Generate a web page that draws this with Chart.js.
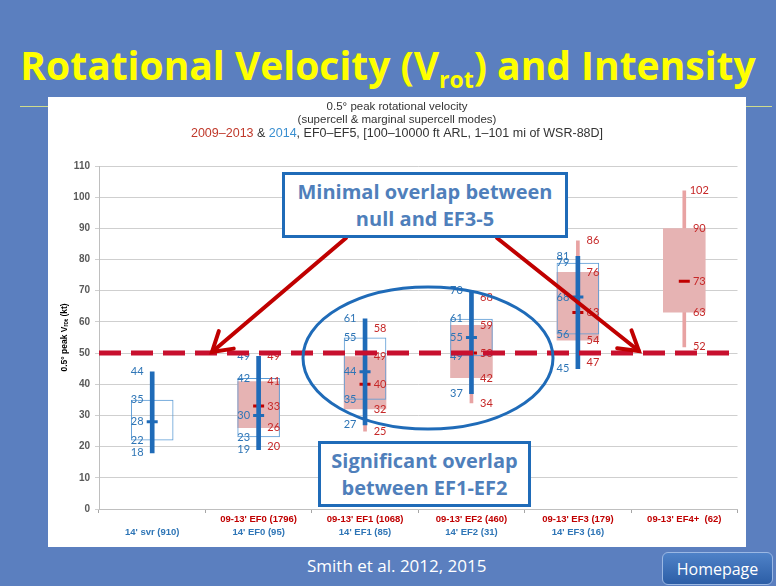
<!DOCTYPE html>
<html>
<head>
<meta charset="utf-8">
<script src="https://cdn.jsdelivr.net/npm/chart.js@4.4.0/dist/chart.umd.min.js"></script>
<style>
  html, body { margin: 0; padding: 0; }
  body { width: 776px; height: 586px; background: #5b7fbf; position: relative; overflow: hidden; font-family: "Open Sans", sans-serif; }
  #title { position: absolute; left: 0; top: 37px; width: 776px; text-align: center; color: #ffff00; font-weight: 700; font-size: 39px; line-height: 56px; white-space: nowrap; }
  #title .sub { font-size: 23px; position: relative; top: 8px; }
  #rule { position: absolute; left: 20px; top: 106px; width: 752px; height: 1px; background: #cfdc8c; }
  #panel { position: absolute; left: 48px; top: 97px; width: 698px; height: 450px; background: #ffffff; }
  #panel canvas { position: absolute; left: 0; top: 0; }
  .callout { position: absolute; background: #ffffff; border: 3px solid #1f6bb8; color: #4f7fbb; font-weight: 700; font-size: 20px; text-align: center; line-height: 27px; box-sizing: border-box; padding-top: 3px; white-space: nowrap; }
  #footer { position: absolute; left: 307px; top: 554px; color: #ffffff; font-size: 17px; }
  #home { position: absolute; left: 662px; top: 552px; width: 111px; height: 33px; border-radius: 6px; border: 1px solid #9bb8e4; background: linear-gradient(#4f82c8, #2c5ea6); color: #ffffff; font-size: 16px; text-align: center; line-height: 33px; box-sizing: border-box; }
</style>
</head>
<body>
<div id="title">Rotational Velocity (V<span class="sub">rot</span>) and Intensity</div>
<div id="rule"></div>
<div id="panel"><canvas id="c" width="698" height="450"></canvas></div>
<div class="callout" style="left:282px;top:172px;width:286px;height:66px;">Minimal overlap between<br>null and EF3-5</div>
<div class="callout" style="left:318px;top:441px;width:213px;height:66px;">Significant overlap<br>between EF1-EF2</div>
<div id="footer">Smith et al. 2012, 2015</div>
<div id="home">Homepage</div>
<script>
// ---- data ----
const categories = ["svr", "EF0", "EF1", "EF2", "EF3", "EF4+"];
const redTickLabels = ["", "09-13' EF0 (1796)", "09-13' EF1 (1068)", "09-13' EF2 (460)", "09-13' EF3 (179)", "09-13' EF4+  (62)"];
const blueTickLabels = ["14' svr (910)", "14' EF0 (95)", "14' EF1 (85)", "14' EF2 (31)", "14' EF3 (16)", ""];
// 2014 (blue)
const blueMin    = [18, 19, 27, 37, 45, null];
const blueQ1     = [22, 23, 35, 49, 56, null];
const blueMedian = [28, 30, 44, 55, 68, null];
const blueQ3     = [35, 42, 55, 61, 79, null];
const blueMax    = [44, 49, 61, 70, 81, null];
// 2009-2013 (red)
const redMin     = [null, 20, 25, 34, 47, 52];
const redQ1      = [null, 26, 32, 42, 54, 63];
const redMedian  = [null, 33, 40, 50, 63, 73];
const redQ3      = [null, 41, 49, 59, 76, 90];
const redMax     = [null, 49, 58, 68, 86, 102];
const yMin = 0, yMax = 110, yStep = 10;
const nullThreshold = 50;

const range = (lo, hi) => lo.map((v, i) => (v == null ? null : [v, hi[i]]));

const BLUE = '#1f6bb8', BLUE_TXT = '#2e75b6', BLUE_BOX = '#5b9bd5';
const RED = '#c00000', RED_TXT = '#c62828';

const overlay = {
  id: 'overlay',
  beforeDraw(chart) {
    const ctx = chart.ctx, w = chart.width;
    ctx.save();
    ctx.textAlign = 'center';
    ctx.textBaseline = 'middle';
    ctx.fillStyle = '#333333';
    ctx.font = '11.5px "Liberation Sans Narrow", "Liberation Sans", sans-serif';
    ctx.fillText('0.5° peak rotational velocity', w / 2, 10);
    ctx.fillText('(supercell & marginal supercell modes)', w / 2, 23);
    const parts = [['2009–2013', '#c0392b'], [' & ', '#333333'], ['2014', '#3a8fd0'], [', EF0–EF5, [100–10000 ft ARL, 1–101 mi of WSR-88D]', '#333333']];
    ctx.font = '12.5px "Liberation Sans Narrow", "Liberation Sans", sans-serif';
    let total = parts.reduce((s, p) => s + ctx.measureText(p[0]).width, 0);
    let x = w / 2 - total / 2;
    ctx.textAlign = 'left';
    parts.forEach(p => { ctx.fillStyle = p[1]; ctx.fillText(p[0], x, 37); x += ctx.measureText(p[0]).width; });
    ctx.restore();
  },
  afterDatasetsDraw(chart) {
    const { ctx } = chart;
    const xs = chart.scales.x, ys = chart.scales.y;
    ctx.save();
    ctx.font = '11px Lato, sans-serif';
    ctx.textAlign = 'center';
    ctx.textBaseline = 'middle';
    categories.forEach((c, i) => {
      const cx = xs.getPixelForValue(i);
      [blueMin, blueQ1, blueMedian, blueQ3, blueMax].forEach(arr => {
        if (arr[i] != null) { ctx.fillStyle = BLUE_TXT; ctx.fillText(String(arr[i]), cx - 15, ys.getPixelForValue(arr[i])); }
      });
      [redMin, redQ1, redMedian, redQ3, redMax].forEach(arr => {
        if (arr[i] != null) { ctx.fillStyle = RED_TXT; ctx.fillText(String(arr[i]), cx + 15, ys.getPixelForValue(arr[i])); }
      });
    });
    // threshold dashed line
    const ty = ys.getPixelForValue(nullThreshold);
    ctx.strokeStyle = '#c8102e';
    ctx.lineWidth = 5;
    ctx.setLineDash([22, 10]);
    ctx.beginPath();
    ctx.moveTo(chart.chartArea.left, ty);
    ctx.lineTo(chart.chartArea.right, ty);
    ctx.stroke();
    ctx.setLineDash([]);
    // arrows (page coords minus panel offset)
    const ox = 48, oy = 97;
    function arrow(x1, y1, x2, y2) {
      ctx.strokeStyle = '#c00000';
      ctx.lineWidth = 4;
      ctx.lineCap = 'round';
      ctx.beginPath(); ctx.moveTo(x1 - ox, y1 - oy); ctx.lineTo(x2 - ox, y2 - oy); ctx.stroke();
      const a = Math.atan2(y2 - y1, x2 - x1), L = 22, sp = 0.55;
      ctx.beginPath();
      ctx.moveTo(x2 - ox - L * Math.cos(a - sp), y2 - oy - L * Math.sin(a - sp));
      ctx.lineTo(x2 - ox, y2 - oy);
      ctx.lineTo(x2 - ox - L * Math.cos(a + sp), y2 - oy - L * Math.sin(a + sp));
      ctx.stroke();
    }
    arrow(346, 238, 212, 352);
    arrow(497, 238, 639, 351);
    // ellipse
    ctx.strokeStyle = BLUE;
    ctx.lineWidth = 3;
    ctx.beginPath();
    ctx.ellipse(428 - ox, 358 - oy, 125, 71, 0, 0, Math.PI * 2);
    ctx.stroke();
    ctx.restore();
  }
};

const boxCommon = { grouped: false, categoryPercentage: 1, barPercentage: 0.4, borderSkipped: false };
const tickFont = { family: '"Liberation Sans Narrow", "Liberation Sans", sans-serif', size: 9.5, weight: 'bold' };

new Chart(document.getElementById('c'), {
  type: 'bar',
  data: {
    labels: redTickLabels,
    datasets: [
      { type: 'line', data: blueMedian, showLine: false, pointStyle: 'line', pointRadius: 5.5, pointBorderWidth: 3, borderColor: BLUE, pointBorderColor: BLUE, order: 0 },
      { data: range(blueMin, blueMax), backgroundColor: BLUE, barThickness: 4, grouped: false, order: 1 },
      { type: 'line', data: redMedian, showLine: false, pointStyle: 'line', pointRadius: 5.5, pointBorderWidth: 3, borderColor: RED, pointBorderColor: RED, order: 2 },
      Object.assign({ data: range(blueQ1, blueQ3), backgroundColor: 'rgba(0,0,0,0)', borderColor: BLUE_BOX, borderWidth: 1, order: 3 }, boxCommon),
      Object.assign({ data: range(redQ1, redQ3), backgroundColor: '#e6b3b3', borderWidth: 0, order: 4 }, boxCommon),
      { data: range(redMin, redMax), backgroundColor: '#e8a3a3', barThickness: 3, grouped: false, order: 5 }
    ]
  },
  options: {
    responsive: false,
    animation: false,
    events: [],
    layout: { padding: { top: 69, right: 3, bottom: 6, left: 0 } },
    plugins: { legend: { display: false }, tooltip: { enabled: false } },
    scales: {
      x: {
        type: 'category', position: 'bottom', weight: 0,
        grid: { display: true, drawOnChartArea: false, tickLength: 4, color: '#a6a6a6', offset: true },
        border: { color: '#bfbfbf' },
        ticks: { color: '#c00000', autoSkip: false, maxRotation: 0, padding: 1, font: tickFont },
        afterFit(s) { s.height = 18; }
      },
      x2: {
        type: 'category', position: 'bottom', weight: 1, labels: blueTickLabels, offset: true,
        grid: { display: false, drawTicks: false }, border: { display: false },
        ticks: { color: '#2e75b6', autoSkip: false, maxRotation: 0, padding: 0, font: tickFont },
        afterFit(s) { s.height = 14; }
      },
      y: {
        min: yMin, max: yMax,
        grid: { color: '#cfcfcf', tickLength: 4 },
        border: { color: '#bfbfbf' },
        ticks: { stepSize: yStep, color: '#595959', padding: 5, font: { family: '"Liberation Sans", sans-serif', size: 10, weight: 'bold' } },
        title: { display: true, text: '0.5° peak Vᵣₒₜ (kt)', color: '#000000', padding: { top: 12, bottom: 0 }, font: { family: '"Liberation Sans", sans-serif', size: 8.5, weight: 'bold' } },
        afterFit(s) { s.width = 51; }
      }
    }
  },
  plugins: [overlay]
});
</script>
</body>
</html>
